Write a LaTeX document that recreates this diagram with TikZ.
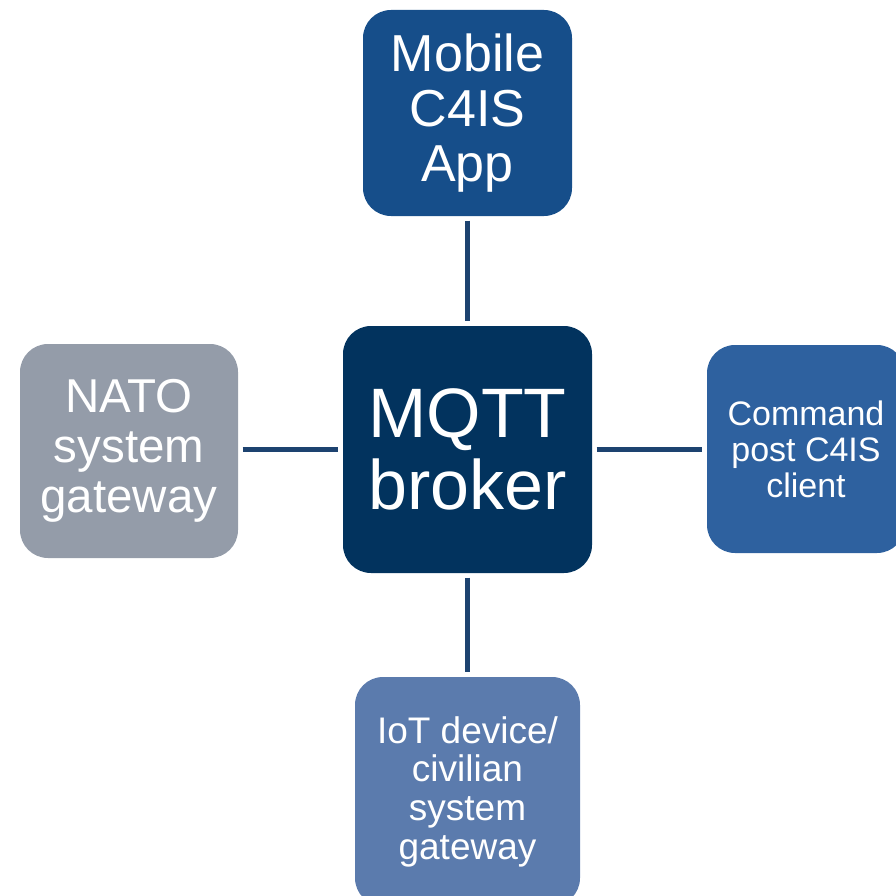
\documentclass[tikz,border=0pt]{standalone}
\usepackage{fontspec}
\setmainfont{Liberation Sans}
\definecolor{cTop}{HTML}{164E8A}
\definecolor{cMid}{HTML}{02335E}
\definecolor{cRight}{HTML}{2E619F}
\definecolor{cBot}{HTML}{5B7BAD}
\definecolor{cGray}{HTML}{949CA9}
\definecolor{cLine}{HTML}{1D4370}
\tikzset{
  box/.style={rounded corners=28pt, inner sep=0pt, align=center, text=white},
  link/.style={draw=cLine, line width=5pt, shorten <=4.5pt, shorten >=4.5pt}
}
\begin{document}
\begin{tikzpicture}[x=1pt,y=-1pt]
\useasboundingbox (0,0) rectangle (896,896);
\node[box, fill=cMid, minimum width=249pt, minimum height=247pt,
  font=\fontsize{70}{72}\selectfont] (broker) at (467.5,449.5) {MQTT\\broker};
\node[box, fill=cTop, minimum width=209pt, minimum height=206pt,
  font=\fontsize{52}{55}\selectfont] (mobile) at (467.5,113) {Mobile\\C4IS\\App};
\node[box, fill=cGray, minimum width=218pt, minimum height=214pt,
  font=\fontsize{47.5}{50}\selectfont] (nato) at (129,451) {NATO\\system\\gateway};
\node[box, fill=cRight, minimum width=198pt, minimum height=208pt,
  font=\fontsize{34}{36}\selectfont] (cmd) at (806,449) {Command\\post C4IS\\client};
\node[box, fill=cBot, minimum width=225pt, minimum height=229pt,
  font=\fontsize{37}{38.7}\selectfont] (iot) at (467.5,791.5) {IoT device/\\civilian\\system\\gateway};
\draw[link] (mobile) -- (broker);
\draw[link] (broker) -- (iot);
\draw[link] (nato.east |- broker.west) -- (broker.west);
\draw[link] (broker.east) -- (cmd.west |- broker.east);
\end{tikzpicture}
\end{document}
